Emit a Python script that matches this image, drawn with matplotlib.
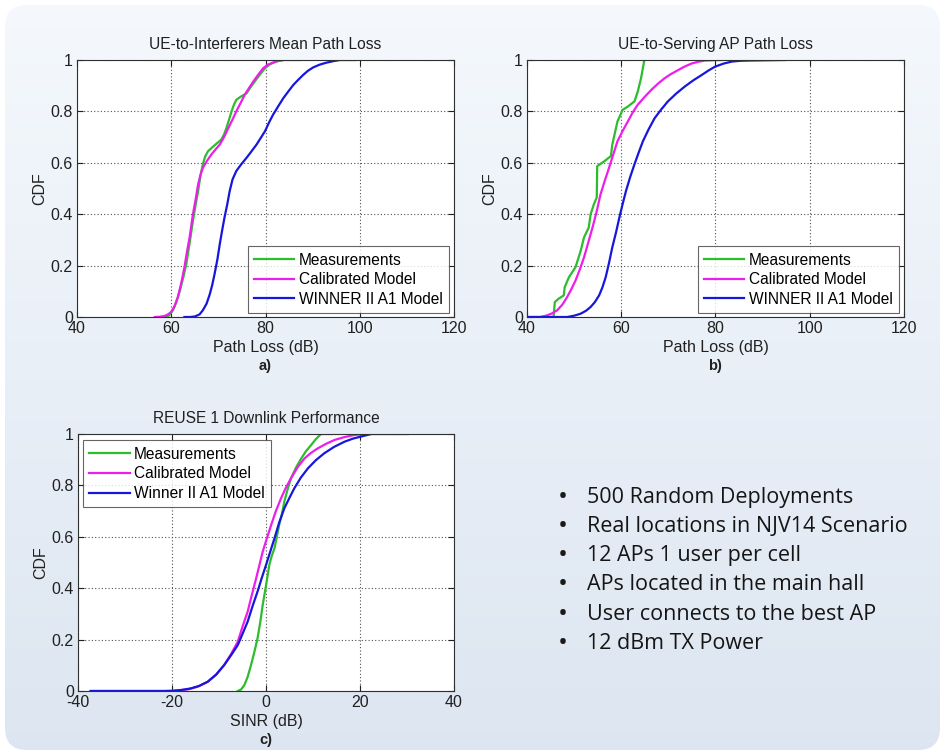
import numpy as np
import matplotlib
matplotlib.use("Agg")
import matplotlib.pyplot as plt
from matplotlib.patches import FancyBboxPatch

plt.rcParams['font.family'] = ['Liberation Sans', 'DejaVu Sans']

# ---------------- data ----------------
# Panel a: UE-to-Interferers Mean Path Loss
a_meas_x = [58.6, 59.5, 60.35, 61.0, 61.8, 62.5, 63.2, 64.0, 64.6, 65.2, 65.7, 66.2, 66.7, 67.2, 67.8, 69.0, 70.6, 71.2, 71.7, 72.3, 72.8, 73.3, 73.8, 74.8, 75.96, 76.8, 77.7, 78.8, 79.9, 81.0, 82.3, 83.8]
a_meas_y = [0.0, 0.005, 0.026, 0.055, 0.10, 0.15, 0.206, 0.30, 0.374, 0.44, 0.49, 0.55, 0.594, 0.625, 0.645, 0.665, 0.69, 0.71, 0.735, 0.77, 0.80, 0.826, 0.845, 0.858, 0.87, 0.893, 0.916, 0.943, 0.968, 0.984, 0.994, 1.0]
a_cal_x = [56.5, 57.6, 58.6, 59.3, 60.0, 60.7, 61.4, 62.1, 62.8, 63.3, 63.9, 64.6, 65.2, 65.7, 66.2, 66.7, 67.6, 68.5, 69.4, 70.3, 71.2, 72.1, 73.0, 73.8, 74.7, 75.6, 76.5, 77.4, 78.5, 79.5, 80.5, 81.6, 82.7, 83.8, 87.3]
a_cal_y = [0.0, 0.001, 0.004, 0.01, 0.02, 0.042, 0.077, 0.13, 0.194, 0.25, 0.31, 0.40, 0.46, 0.516, 0.553, 0.58, 0.608, 0.632, 0.652, 0.671, 0.70, 0.735, 0.768, 0.80, 0.832, 0.865, 0.891, 0.916, 0.944, 0.968, 0.982, 0.99, 0.997, 1.0, 1.0]
a_win_x = [62.8, 64.0, 65.0, 66.0, 66.7, 67.5, 68.2, 68.7, 69.2, 69.8, 70.3, 70.8, 71.3, 71.9, 72.4, 73.0, 73.8, 74.8, 75.96, 77.0, 78.1, 79.0, 79.9, 80.7, 81.6, 82.7, 83.8, 84.9, 85.9, 87.0, 88.0, 89.0, 90.1, 91.5, 93.0, 94.5, 95.8, 99.0]
a_win_y = [0.0, 0.0, 0.002, 0.01, 0.026, 0.052, 0.09, 0.125, 0.168, 0.225, 0.284, 0.337, 0.387, 0.44, 0.49, 0.535, 0.568, 0.593, 0.619, 0.644, 0.671, 0.697, 0.723, 0.755, 0.787, 0.82, 0.852, 0.879, 0.903, 0.924, 0.942, 0.958, 0.971, 0.982, 0.99, 0.996, 1.0, 1.0]

# Panel b: UE-to-Serving AP Path Loss
b_meas_x = [45.6, 45.7, 45.9, 46.7, 47.8, 48.0, 48.9, 50.3, 51.4, 52.1, 53.1, 53.5, 54.2, 54.8, 54.9, 56.4, 57.8, 58.1, 59.2, 60.3, 61.4, 62.8, 63.5, 64.2, 64.9]
b_meas_y = [0.0, 0.013, 0.058, 0.071, 0.084, 0.116, 0.155, 0.194, 0.258, 0.31, 0.348, 0.40, 0.439, 0.465, 0.587, 0.606, 0.626, 0.671, 0.761, 0.806, 0.819, 0.839, 0.877, 0.929, 1.0]
b_cal_x = [40.0, 42.8, 44.2, 45.3, 46.4, 47.5, 48.5, 49.4, 50.3, 51.2, 52.1, 53.0, 53.9, 54.8, 55.6, 56.5, 57.4, 58.3, 59.2, 60.3, 61.4, 62.4, 63.5, 65.0, 66.4, 67.8, 69.2, 70.6, 72.1, 73.5, 74.9, 76.3, 77.8, 81.0]
b_cal_y = [0.0, 0.0, 0.006, 0.014, 0.026, 0.048, 0.077, 0.108, 0.142, 0.185, 0.232, 0.29, 0.348, 0.412, 0.477, 0.53, 0.58, 0.632, 0.684, 0.724, 0.761, 0.795, 0.826, 0.857, 0.884, 0.908, 0.929, 0.946, 0.961, 0.975, 0.986, 0.993, 0.998, 1.0]
b_win_x = [40.0, 46.0, 48.5, 50.0, 51.4, 52.5, 53.5, 54.4, 55.3, 56.0, 56.7, 57.4, 58.1, 58.9, 59.6, 60.3, 61.0, 61.9, 62.8, 63.7, 64.6, 65.8, 67.1, 68.5, 69.9, 71.7, 73.5, 75.3, 77.1, 78.5, 79.9, 81.7, 83.5, 85.3, 87.1, 94.9]
b_win_y = [0.0, 0.0, 0.0, 0.005, 0.013, 0.024, 0.039, 0.058, 0.084, 0.115, 0.155, 0.21, 0.271, 0.33, 0.387, 0.44, 0.49, 0.545, 0.594, 0.64, 0.684, 0.73, 0.774, 0.808, 0.839, 0.87, 0.897, 0.921, 0.942, 0.959, 0.974, 0.986, 0.994, 0.997, 0.998, 1.0]

# Panel c: REUSE 1 Downlink Performance (SINR)
c_meas_x = [-6.0, -5.3, -4.6, -3.9, -3.2, -2.5, -1.8, -1.2, -0.7, 0.0, 0.7, 1.2, 1.8, 2.3, 2.8, 3.4, 3.9, 4.6, 5.3, 6.4, 7.5, 8.5, 9.6, 10.6, 11.7, 14.0]
c_meas_y = [0.0, 0.006, 0.023, 0.055, 0.10, 0.15, 0.205, 0.27, 0.335, 0.41, 0.49, 0.525, 0.555, 0.60, 0.646, 0.69, 0.737, 0.785, 0.827, 0.87, 0.905, 0.933, 0.957, 0.98, 1.0, 1.0]
c_cal_x = [-37.3, -21.7, -19.0, -16.7, -14.5, -12.4, -10.6, -8.9, -7.4, -6.0, -5.0, -3.9, -3.0, -2.1, -1.4, -0.7, 0.2, 1.1, 2.1, 3.2, 4.2, 5.3, 6.7, 8.2, 9.6, 11.0, 12.8, 14.6, 16.7, 18.8, 21.0]
c_cal_y = [0.0, 0.0, 0.002, 0.006, 0.017, 0.036, 0.064, 0.101, 0.145, 0.192, 0.25, 0.309, 0.375, 0.438, 0.49, 0.542, 0.595, 0.646, 0.70, 0.75, 0.79, 0.827, 0.87, 0.905, 0.927, 0.944, 0.962, 0.977, 0.988, 0.996, 1.0]
c_win_x = [-37.3, -20.2, -18.0, -16.0, -14.2, -12.4, -10.6, -8.9, -7.4, -6.0, -5.0, -3.9, -2.9, -1.8, -0.9, 0.0, 0.9, 1.8, 2.8, 3.9, 5.0, 6.0, 7.4, 8.9, 10.6, 12.4, 14.5, 16.7, 18.5, 20.2, 22.4, 30.2]
c_win_y = [0.0, 0.0, 0.004, 0.01, 0.02, 0.036, 0.064, 0.101, 0.14, 0.179, 0.222, 0.27, 0.328, 0.387, 0.44, 0.49, 0.542, 0.594, 0.655, 0.711, 0.752, 0.788, 0.83, 0.866, 0.898, 0.925, 0.95, 0.97, 0.982, 0.99, 1.0, 1.0]

titles = ["UE-to-Interferers Mean Path Loss", "UE-to-Serving AP Path Loss", "REUSE 1 Downlink Performance"]
xlabels = ["Path Loss (dB)", "Path Loss (dB)", "SINR (dB)"]
captions = ["a)", "b)", "c)"]
legend_ab = ["Measurements", "Calibrated Model", "WINNER II A1 Model"]
legend_c = ["Measurements", "Calibrated Model", "Winner II A1 Model"]
path_ticks = [40, 60, 80, 100, 120]
sinr_ticks = [-40, -20, 0, 20, 40]
cdf_ticks = [0, 0.2, 0.4, 0.6, 0.8, 1]
cdf_ticklabels = ["0", "0.2", "0.4", "0.6", "0.8", "1"]
bullets = ["500 Random Deployments", "Real locations in NJV14 Scenario", "12 APs 1 user per cell",
           "APs located in the main hall", "User connects to the best AP", "12 dBm TX Power"]

colors = ["#2cbc2c", "#ec1eec", "#1717dc"]

W, H = 945, 755
fig = plt.figure(figsize=(W / 100, H / 100), dpi=100)
fig.patch.set_facecolor("white")

# background gradient panel with rounded corners
bg = fig.add_axes([0, 0, 1, 1])
bg.set_xlim(0, W)
bg.set_ylim(H, 0)
bg.axis("off")
grad = np.linspace(0, 1, 256).reshape(-1, 1)
top = np.array([0.960, 0.975, 0.992])
bot = np.array([0.865, 0.900, 0.945])
img = top[None, None, :] * (1 - grad[:, :, None]) + bot[None, None, :] * grad[:, :, None]
im = bg.imshow(img, extent=[0, W, H, 0], aspect="auto", zorder=0)
patch = FancyBboxPatch((5, 5), 935, 745, boxstyle="round,pad=0,rounding_size=22",
                       transform=bg.transData, facecolor="none", edgecolor="none")
bg.add_patch(patch)
im.set_clip_path(patch)


def px_axes(left, right, top_, bottom):
    return fig.add_axes([left / W, 1 - bottom / H, (right - left) / W, (bottom - top_) / H])


def style(ax, xlim, xticks, title, xlabel, caption):
    ax.set_facecolor("white")
    ax.set_xlim(*xlim)
    ax.set_ylim(0, 1)
    ax.set_xticks(xticks)
    ax.set_xticklabels([str(t) for t in xticks])
    ax.set_yticks(cdf_ticks)
    ax.set_yticklabels(cdf_ticklabels)
    ax.grid(True, linestyle=(0, (1, 2)), color="#505050", linewidth=0.8)
    ax.tick_params(direction="in", length=4, width=0.8, top=True, right=True,
                   labelsize=11.5, colors="#202020", pad=3)
    for s in ax.spines.values():
        s.set_color("#303030")
        s.set_linewidth(0.8)
    ax.set_title(title, fontsize=11.2, color="#202020", pad=8)
    ax.set_ylabel("CDF", fontsize=11.5, color="#202020", labelpad=2)
    ax.set_xlabel(xlabel, fontsize=11.5, color="#202020", labelpad=3)
    ax.text(0.5, -0.19, caption, transform=ax.transAxes, ha="center", va="center",
            fontsize=10.5, fontweight="bold", color="#202020")


ax_a = px_axes(77, 454, 60, 317)
for xs, ys, c, lab in zip([a_meas_x, a_cal_x, a_win_x], [a_meas_y, a_cal_y, a_win_y], colors, legend_ab):
    ax_a.plot(xs, ys, color=c, lw=1.6, label=lab)
style(ax_a, (40, 120), path_ticks, titles[0], xlabels[0], captions[0])

ax_b = px_axes(527, 904, 60, 317)
for xs, ys, c, lab in zip([b_meas_x, b_cal_x, b_win_x], [b_meas_y, b_cal_y, b_win_y], colors, legend_ab):
    ax_b.plot(xs, ys, color=c, lw=1.6, label=lab)
style(ax_b, (40, 120), path_ticks, titles[1], xlabels[1], captions[1])

ax_c = px_axes(78, 454, 434, 691)
for xs, ys, c, lab in zip([c_meas_x, c_cal_x, c_win_x], [c_meas_y, c_cal_y, c_win_y], colors, legend_c):
    ax_c.plot(xs, ys, color=c, lw=1.6, label=lab)
style(ax_c, (-40, 40), sinr_ticks, titles[2], xlabels[2], captions[2])

leg_kw = dict(fontsize=11.2, frameon=True, fancybox=False, edgecolor="#404040",
              handlelength=2.6, handletextpad=0.3, borderpad=0.4, labelspacing=0.3,
              borderaxespad=0.0)
for ax in (ax_a, ax_b):
    lg = ax.legend(loc="lower right", bbox_to_anchor=(0.987, 0.015), **leg_kw)
    lg.get_frame().set_linewidth(0.8)
lg = ax_c.legend(loc="upper left", bbox_to_anchor=(0.013, 0.975), **leg_kw)
lg.get_frame().set_linewidth(0.8)

# bullet text
for i, b in enumerate(bullets):
    y = 497 + i * 29.3
    fig.text(558 / W, 1 - y / H, "\u2022", fontsize=19, va="center", ha="left",
             color="#1a1a1a", family=["Open Sans", "DejaVu Sans"])
    fig.text(587 / W, 1 - y / H, b, fontsize=15.5, va="center", ha="left",
             color="#151515", family=["Open Sans", "DejaVu Sans"])

fig.savefig("out.png", dpi=100, facecolor="white")
